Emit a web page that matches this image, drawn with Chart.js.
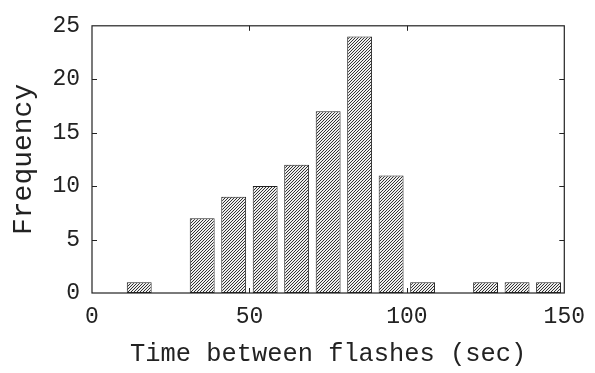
<!DOCTYPE html>
<html>
<head>
<meta charset="utf-8">
<script src="https://cdn.jsdelivr.net/npm/chart.js@4/dist/chart.umd.min.js"></script>
<style>
  html, body { margin: 0; padding: 0; background: #ffffff; }
  canvas { display: block; }
</style>
</head>
<body>
<canvas id="c" width="595" height="373"></canvas>
<script>
// ---- data ----
const binCenters = [15, 35, 45, 55, 65, 75, 85, 95, 105, 125, 135, 145];
const frequencies = [1, 7, 9, 10, 12, 17, 24, 11, 1, 1, 1, 1];
const xTickValues = [0, 50, 100, 150];
const yTickValues = [0, 5, 10, 15, 20, 25];
const xTitle = 'Time between flashes (sec)';
const yTitle = 'Frequency';

// ---- hatch pattern ----
function makeHatch() {
  const size = 3;
  const t = document.createElement('canvas');
  t.width = size; t.height = size;
  const g = t.getContext('2d');
  const img = g.createImageData(size, size);
  for (let y = 0; y < size; y++) {
    for (let x = 0; x < size; x++) {
      const i = (y * size + x) * 4;
      const dark = ((x + y) % size) === size - 1;
      const v = dark ? 50 : 238;
      img.data[i] = v; img.data[i + 1] = v; img.data[i + 2] = v; img.data[i + 3] = 255;
    }
  }
  g.putImageData(img, 0, 0);
  return document.getElementById('c').getContext('2d').createPattern(t, 'repeat');
}

const ink = '#222222';
const fontFamily = '"Liberation Mono", "Courier New", monospace';

const framePlugin = {
  id: 'frame',
  afterDatasetsDraw(chart) {
    const { ctx, chartArea: a, scales } = chart;
    ctx.save();
    ctx.strokeStyle = ink;
    ctx.lineWidth = 1.2;
    ctx.strokeRect(a.left, a.top, a.right - a.left, a.bottom - a.top);
    const tl = 5;
    ctx.lineWidth = 1;
    ctx.beginPath();
    yTickValues.forEach(v => {
      if (v === scales.y.min || v === scales.y.max) return;
      const py = Math.round(scales.y.getPixelForValue(v)) + 0.5;
      ctx.moveTo(a.left, py); ctx.lineTo(a.left + tl, py);
      ctx.moveTo(a.right, py); ctx.lineTo(a.right - tl, py);
    });
    xTickValues.forEach(v => {
      if (v === scales.x.min || v === scales.x.max) return;
      const px = Math.round(scales.x.getPixelForValue(v)) + 0.5;
      ctx.moveTo(px, a.bottom); ctx.lineTo(px, a.bottom - tl);
      ctx.moveTo(px, a.top); ctx.lineTo(px, a.top + tl);
    });
    ctx.stroke();
    ctx.restore();
  }
};

new Chart(document.getElementById('c'), {
  type: 'bar',
  data: {
    datasets: [{
      data: binCenters.map((x, i) => ({ x: x, y: frequencies[i] })),
      backgroundColor: makeHatch(),
      borderColor: ink,
      borderWidth: 1,
      borderSkipped: false,
      categoryPercentage: 1.0,
      barPercentage: 0.79
    }]
  },
  options: {
    responsive: false,
    animation: false,
    devicePixelRatio: 1,
    layout: { padding: { left: 0, right: 27, top: 20, bottom: 0 } },
    plugins: { legend: { display: false }, tooltip: { enabled: false } },
    scales: {
      x: {
        type: 'linear',
        offset: false,
        min: 0, max: 150,
        grid: { display: false, drawTicks: false, offset: false },
        border: { display: false },
        afterBuildTicks(scale) { scale.ticks = xTickValues.map(v => ({ value: v })); },
        afterFit(scale) { scale.height = 80; },
        ticks: {
          padding: 10,
          color: ink,
          maxRotation: 0,
          font: { family: fontFamily, size: 23 }
        },
        title: {
          display: true,
          text: xTitle,
          color: ink,
          padding: { top: 0, bottom: 3 },
          font: { family: fontFamily, size: 25.4 }
        }
      },
      y: {
        min: 0, max: 25,
        grid: { display: false, drawTicks: false },
        border: { display: false },
        afterBuildTicks(scale) { scale.ticks = yTickValues.map(v => ({ value: v })); },
        afterFit(scale) { scale.width = 92; },
        ticks: {
          padding: 12,
          color: ink,
          font: { family: fontFamily, size: 23 }
        },
        title: {
          display: true,
          text: yTitle,
          color: ink,
          padding: { top: 7, bottom: 0 },
          font: { family: fontFamily, size: 28 }
        }
      }
    }
  },
  plugins: [framePlugin]
});
</script>
</body>
</html>
